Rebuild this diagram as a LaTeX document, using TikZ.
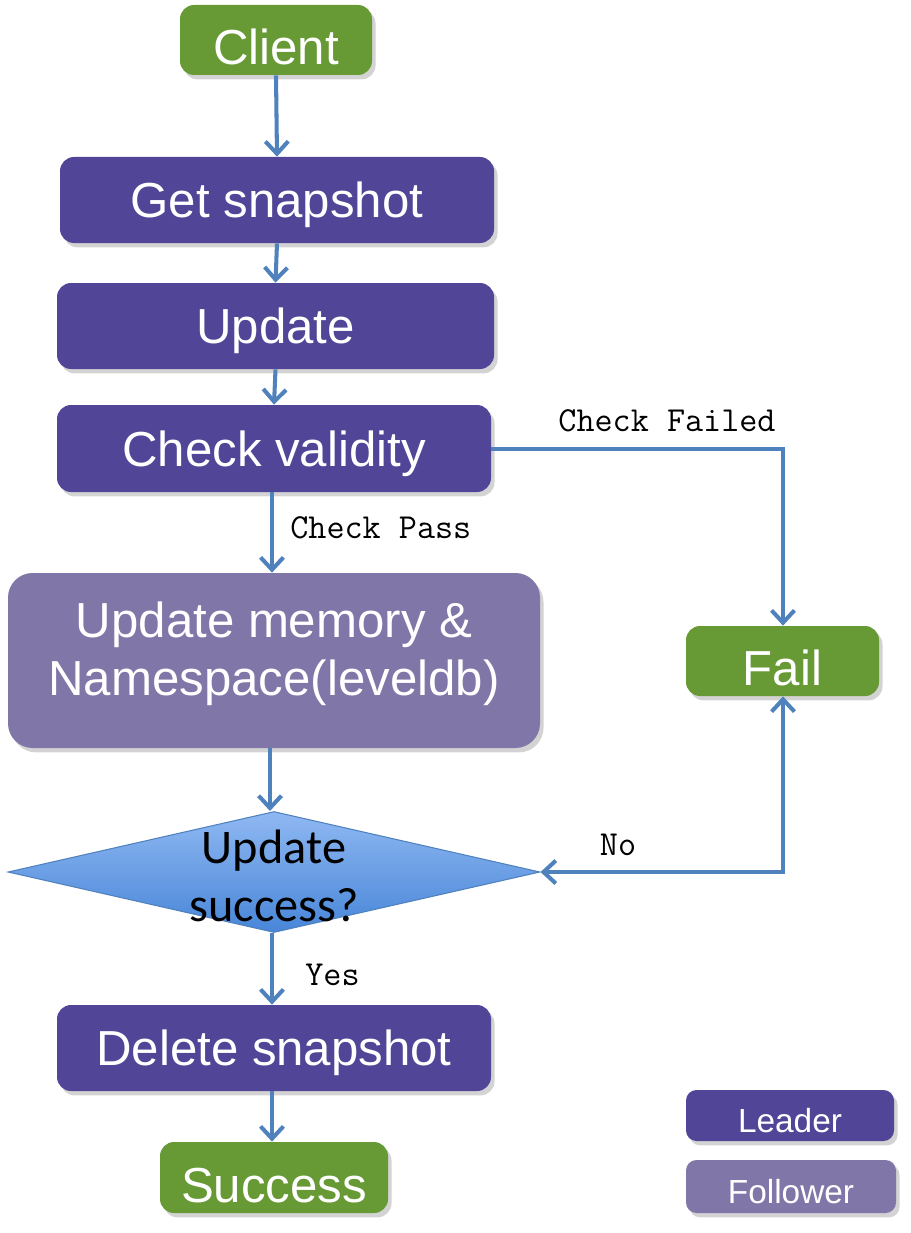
\documentclass[tikz,border=0pt]{standalone}
\usepackage{fontspec}
\setmainfont{Liberation Sans}
\newfontfamily\calfont{Carlito}
\usetikzlibrary{arrows.meta,shapes.geometric,shadows}
\definecolor{leadc}{RGB}{80,69,150}
\definecolor{follc}{RGB}{128,118,168}
\definecolor{greenc}{RGB}{103,153,52}
\definecolor{linec}{RGB}{79,129,189}
\definecolor{diatop}{RGB}{143,184,242}
\definecolor{diabot}{RGB}{72,134,216}
\begin{document}
\begin{tikzpicture}[x=0.02cm,y=-0.02cm,
  box/.style={rectangle,rounded corners=8pt,text=white,inner sep=0pt,
    font=\fontsize{28}{31}\selectfont,align=center,text depth=0pt,
    drop shadow={opacity=0.35,shadow xshift=2pt,shadow yshift=-2.5pt}},
  leadbox/.style={box,fill=leadc},
  follbox/.style={box,fill=follc},
  greenbox/.style={box,fill=greenc,text height=28pt},
  legbox/.style={rounded corners=6pt,font=\fontsize{19}{22}\selectfont,text height=19pt},
  conn/.style={draw=linec,line width=2.3pt,-{Straight Barb[length=7pt,width=13pt,line width=2.3pt]}},
  lbl/.style={font=\ttfamily\fontsize{20}{24}\selectfont,inner sep=0pt}]
\useasboundingbox (0,0) rectangle (910,1233);

\node[greenbox,minimum width=192*0.02cm,minimum height=70*0.02cm] (client) at (276,40) {Client};
\node[leadbox,minimum width=434*0.02cm,minimum height=86*0.02cm] (get) at (277,200) {Get snapshot};
\node[leadbox,minimum width=437*0.02cm,minimum height=86*0.02cm] (upd) at (275.5,326) {Update};
\node[leadbox,minimum width=434*0.02cm,minimum height=87*0.02cm] (check) at (274,448.5) {Check validity};
\node[follbox,rounded corners=14pt,minimum width=532*0.02cm,minimum height=175*0.02cm] (mem) at (274,660.5) {};
\node[text=white,font=\fontsize{28}{33}\selectfont,align=center,inner sep=0pt] (memtext) at (274,654) {Update memory \&\\Namespace(leveldb)};
\node[diamond,draw=linec,line width=0.6pt,top color=diatop,bottom color=diabot,inner sep=0pt,
  minimum width=532*0.02cm,minimum height=121*0.02cm] (dia) at (274,872) {};
\node[font=\calfont\fontsize{27.5}{33}\selectfont,align=center,inner sep=0pt] (diatext) at (274,876) {Update\\success?};
\node[leadbox,minimum width=434*0.02cm,minimum height=86*0.02cm] (del) at (274,1048) {Delete snapshot};
\node[greenbox,minimum width=228*0.02cm,minimum height=71*0.02cm] (succ) at (274,1177.5) {Success};
\node[greenbox,minimum width=193*0.02cm,minimum height=70*0.02cm] (fail) at (782.5,661) {Fail};
\node[leadbox,legbox,minimum width=208*0.02cm,minimum height=51*0.02cm] (leg1) at (790,1115.5) {Leader};
\node[follbox,legbox,minimum width=210*0.02cm,minimum height=53*0.02cm] (leg2) at (791,1186.5) {Follower};

\coordinate (cf) at (783,449);
\coordinate (nf) at (783,872);

\draw[conn] (client.south) -- (get.north);
\draw[conn] (get.south) -- (upd.north);
\draw[conn] (upd.south) -- (check.north);
\draw[conn] (check.south -| 272,0) -- (mem.north -| 272,0);
\draw[conn] (mem.south -| 270,0) -- (dia.north -| 270,0);
\draw[conn] (dia.south -| 272,0) -- (del.north -| 272,0);
\draw[conn] (del.south -| 272,0) -- (succ.north -| 272,0);
\draw[conn] (check.east |- cf) -- (cf) -- (fail.north -| cf);
\draw[conn,{Straight Barb[length=7pt,width=13pt,line width=2.3pt]}-{Straight Barb[length=7pt,width=13pt,line width=2.3pt]}] (fail.south -| nf) -- (nf) -- (dia.east);

\node[lbl,anchor=west] (lpass) at (290,528) {Check Pass};
\node[lbl] (lfail) at (667,421) {Check Failed};
\node[lbl] (lno) at (618,845) {No};
\node[lbl,anchor=west] (lyes) at (305,975) {Yes};
\end{tikzpicture}
\end{document}
